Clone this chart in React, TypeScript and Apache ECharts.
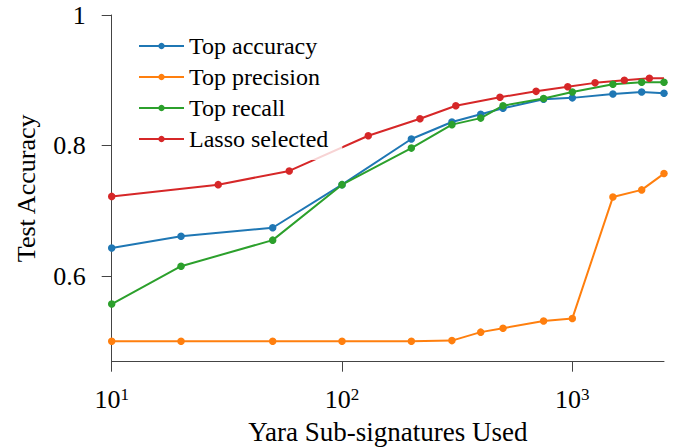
import React, { useEffect, useRef } from "react";
import * as echarts from "echarts";

const sizes = [10, 20, 50, 100, 200, 300, 400, 500, 750, 1000, 1500, 2000, 2500];
const topAccuracy = [0.643, 0.661, 0.674, 0.740, 0.810, 0.836, 0.848, 0.857, 0.871, 0.873, 0.879, 0.882, 0.880];
const topPrecision = [0.5, 0.5, 0.5, 0.5, 0.5, 0.501, 0.514, 0.520, 0.531, 0.535, 0.721, 0.732, 0.757];
const topRecall = [0.557, 0.615, 0.655, 0.740, 0.796, 0.832, 0.842, 0.861, 0.872, 0.882, 0.894, 0.897, 0.897];
const lassoSizes = [10, 29, 59, 130, 218, 312, 485, 696, 955, 1255, 1682, 2160, 2500];
const lassoSelected = [0.722, 0.740, 0.761, 0.815, 0.841, 0.861, 0.874, 0.883, 0.890, 0.896, 0.900, 0.903, 0.903];
const yTicks = [0.6, 0.8, 1];
const xTicks = [10, 100, 1000];
const seriesNames = ["Top accuracy", "Top precision", "Top recall", "Lasso selected"];
const colors = ["#1f77b4", "#ff7f0e", "#2ca02c", "#d62728"];

const FONT = "Liberation Serif";

export default function App() {
  const ref = useRef<HTMLDivElement>(null);
  useEffect(() => {
    if (!ref.current) return;
    const chart = echarts.init(ref.current, undefined, { renderer: "svg" });
    const pair = (xs: number[], ys: number[]) => xs.map((x, i) => [x, ys[i]]);
    const lassoData: any[] = pair(lassoSizes, lassoSelected);
    lassoData[lassoData.length - 1] = { value: lassoData[lassoData.length - 1], symbol: "none" };
    const datasets = [
      pair(sizes, topAccuracy),
      pair(sizes, topPrecision),
      pair(sizes, topRecall),
      lassoData,
    ];
    const axisColor = "#444";
    chart.setOption({
      animation: false,
      textStyle: { fontFamily: FONT },
      grid: { left: 111.7, right: 27, top: 15, bottom: 86.3, containLabel: false, outerBoundsMode: "none" },
      legend: {
        orient: "vertical",
        left: 128,
        top: 25,
        padding: [9, 14, 9, 10],
        itemWidth: 45,
        itemHeight: 8,
        itemGap: 7,
        backgroundColor: "rgba(255,255,255,0.8)",
        textStyle: { fontFamily: FONT, fontSize: 24, color: "#000", lineHeight: 24 },
        data: seriesNames,
      },
      xAxis: {
        type: "log",
        logBase: 10,
        min: 10,
        max: 2500,
        name: "Yara Sub-signatures Used",
        nameLocation: "middle",
        nameGap: 57,
        nameTextStyle: { fontFamily: FONT, fontSize: 27, color: "#000" },
        axisLine: { show: true, lineStyle: { color: axisColor, width: 1 } },
        axisTick: { show: true, length: 10, customValues: xTicks, lineStyle: { color: axisColor } },
        minorTick: { show: false },
        splitLine: { show: false },
        axisLabel: {
          customValues: xTicks,
          margin: 24,
          fontFamily: FONT,
          formatter: (v: number) => "{b|10}{s|" + Math.round(Math.log10(v)) + "}",
          rich: {
            b: { fontFamily: FONT, fontSize: 26, color: "#000", lineHeight: 28 },
            s: { fontFamily: FONT, fontSize: 17, color: "#000", verticalAlign: "top", lineHeight: 17 },
          },
        },
      },
      yAxis: {
        type: "value",
        min: 0.4687,
        max: 1,
        name: "Test Accuracy",
        nameLocation: "middle",
        nameGap: 72,
        nameTextStyle: { fontFamily: FONT, fontSize: 26, color: "#000" },
        axisLine: { show: true, lineStyle: { color: axisColor, width: 1 } },
        axisTick: { show: true, length: 10, customValues: yTicks, lineStyle: { color: axisColor } },
        splitLine: { show: false },
        axisLabel: {
          customValues: yTicks,
          margin: 26,
          fontFamily: FONT,
          fontSize: 26,
          color: "#000",
          formatter: (v: number) => (v === 1 ? "1" : v.toFixed(1)),
        },
      },
      series: seriesNames.map((name, i) => ({
        name,
        type: "line",
        data: datasets[i],
        symbol: "circle",
        symbolSize: 7.5,
        showSymbol: true,
        color: colors[i],
        lineStyle: { width: 2, color: colors[i] },
        itemStyle: { color: colors[i] },
        emphasis: { disabled: true },
      })),
    });
    return () => chart.dispose();
  }, []);
  return <div ref={ref} style={{ width: 691, height: 448, position: "absolute", left: 0, top: 0 }} />;
}
